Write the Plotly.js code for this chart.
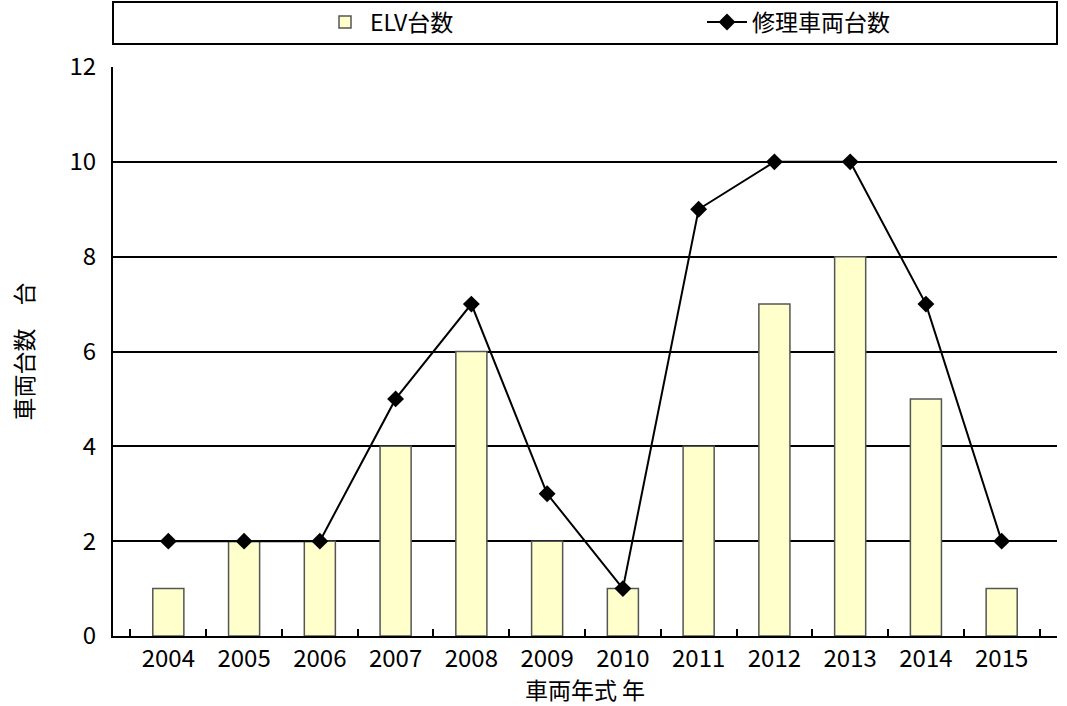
<!DOCTYPE html>
<html>
<head>
<meta charset="utf-8">
<script src="https://cdn.plot.ly/plotly-3.0.1.min.js"></script>
<style>html,body{margin:0;padding:0;background:#fff;}#chart{width:1067px;height:706px;}</style>
</head>
<body>
<div id="chart"></div>
<script>
const years = ['2004','2005','2006','2007','2008','2009','2010','2011','2012','2013','2014','2015'];
const elvCounts = [1,2,2,4,6,2,1,4,7,8,5,1];
const repairCounts = [2,2,2,5,7,3,1,9,10,10,7,2];
const yTicks = [0,2,4,6,8,10,12];

const FONT = '"Noto Sans CJK JP", "Liberation Sans", sans-serif';

const traces = [
  {
    type: 'bar', name: 'ELV台数', x: years, y: elvCounts, legend: 'legend',
    marker: {color: '#FFFFCC', line: {color: '#555555', width: 1.5}},
    width: 0.41
  },
  {
    type: 'scatter', mode: 'lines+markers', name: '修理車両台数', x: years, y: repairCounts, legend: 'legend2',
    line: {color: '#000000', width: 2},
    marker: {symbol: 'diamond', size: 13, color: '#000000'}
  }
];

const legendBase = {
  orientation: 'h', xanchor: 'left', xref: 'container', yref: 'container',
  y: 1 - 22 / 706, yanchor: 'middle',
  font: {family: FONT, size: 23, color: '#000'}, bgcolor: 'rgba(0,0,0,0)', itemwidth: 40
};

const layout = {
  width: 1067, height: 706,
  margin: {l: 113, r: 10, t: 67, b: 70},
  paper_bgcolor: '#ffffff', plot_bgcolor: '#ffffff',
  font: {family: FONT, size: 22, color: '#000'},
  showlegend: true,
  legend: Object.assign({}, legendBase, {x: 320 / 1067}),
  legend2: Object.assign({}, legendBase, {x: 702 / 1067}),
  xaxis: {
    type: 'category', showline: true, linecolor: '#000', linewidth: 2,
    ticks: 'inside', tickson: 'boundaries', ticklen: 7, tickwidth: 2, tickcolor: '#000',
    showgrid: false, tickfont: {family: FONT, size: 24},
    title: {text: '車両年式 年', font: {family: FONT, size: 23}, standoff: 0},
    automargin: false
  },
  yaxis: {
    range: [0, 12], tickvals: yTicks, ticktext: yTicks.map(String),
    showline: true, linecolor: '#000', linewidth: 2,
    showgrid: true, gridcolor: '#000', gridwidth: 2,
    zeroline: false, ticks: '', ticklabelstandoff: 10,
    tickfont: {family: FONT, size: 24},
    title: {text: '車両台数　台', font: {family: FONT, size: 23}, standoff: 30},
    automargin: false
  },
  shapes: [
    {type: 'rect', xref: 'paper', yref: 'paper', x0: 0, x1: 1, y0: 1.0404, y1: 1.1142,
     line: {color: '#000', width: 2}, fillcolor: 'rgba(0,0,0,0)'}
  ]
};

Plotly.newPlot('chart', traces, layout, {displayModeBar: false, staticPlot: true});
</script>
</body>
</html>
